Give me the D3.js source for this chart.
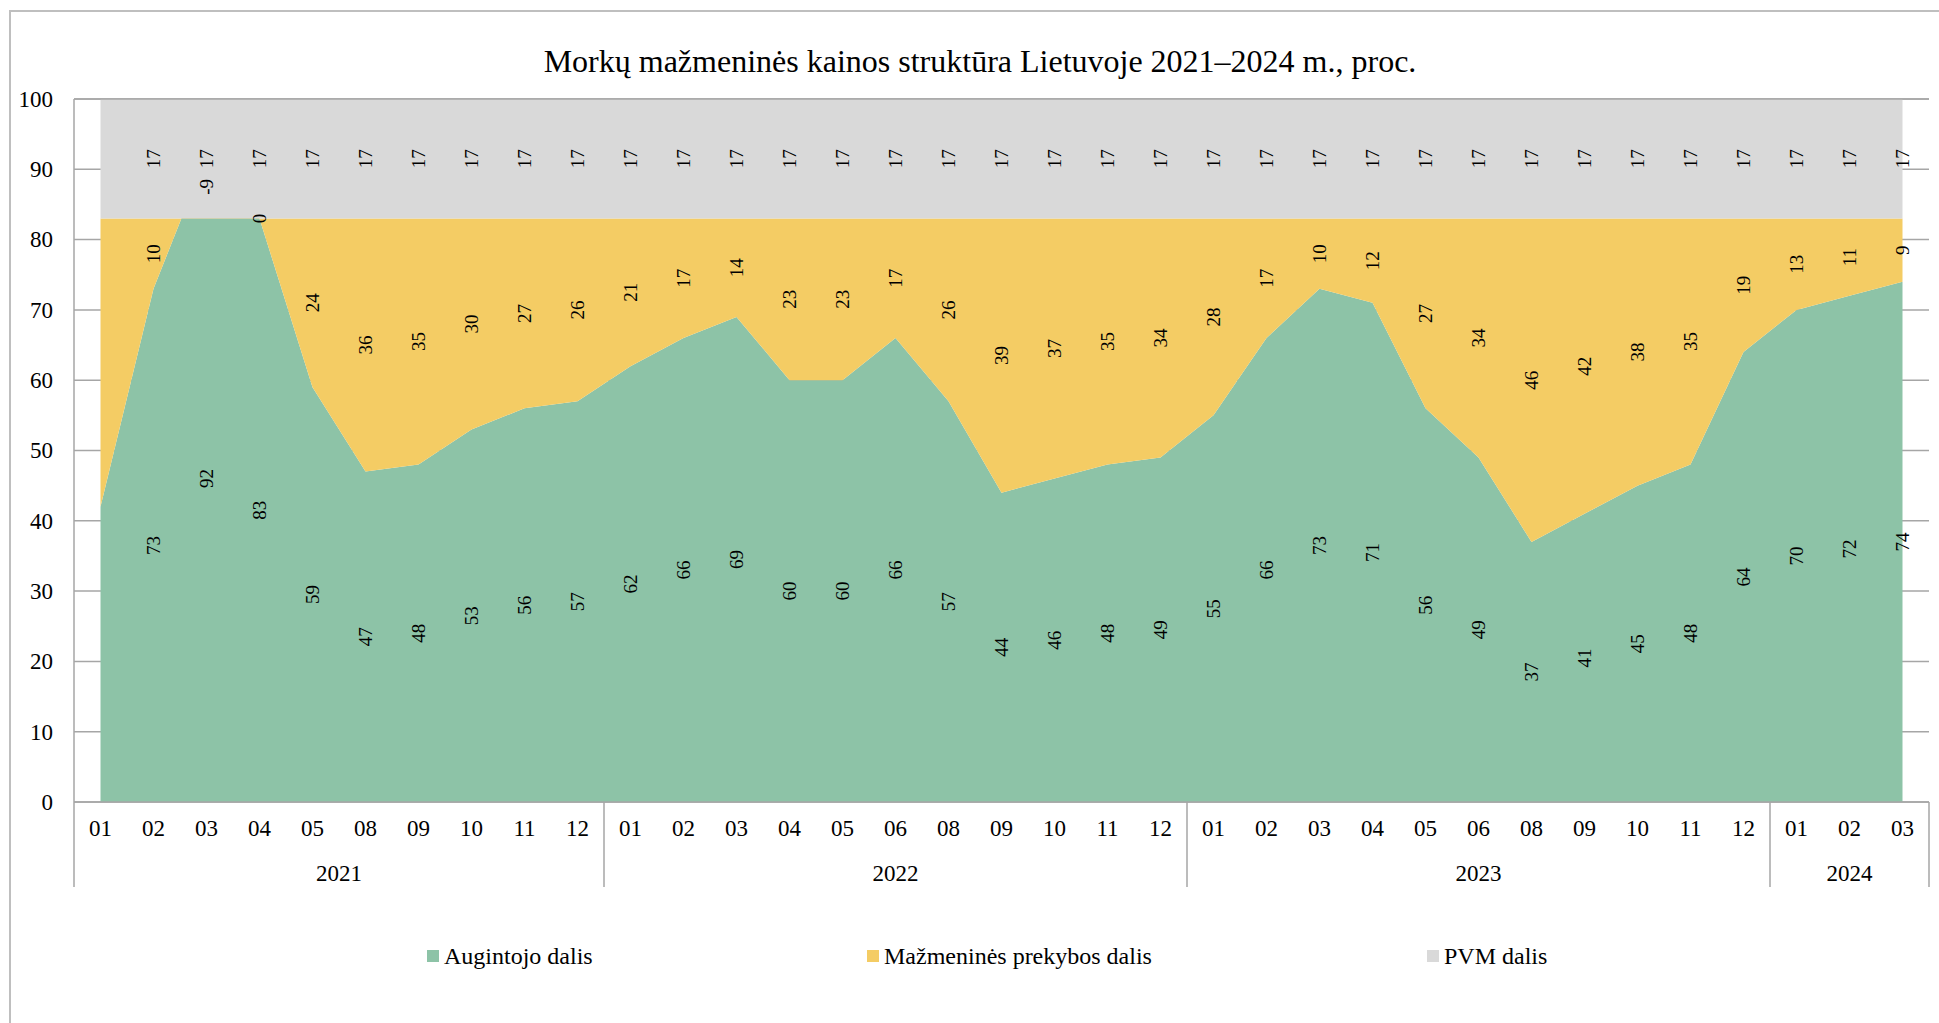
<!DOCTYPE html>
<html lang="lt">
<head>
<meta charset="utf-8">
<title>Morkų mažmeninės kainos struktūra</title>
<script src="https://cdn.jsdelivr.net/npm/d3@7"></script>
<style>
  body { margin: 0; background: #fff; }
  svg { display: block; font-family: "Liberation Serif", "Times New Roman", serif; }
</style>
</head>
<body>
<div id="container"></div>
<script>
// Duomenys
const years = ["2021", "2022", "2023", "2024"];
const months2021 = ["01", "02", "03", "04", "05", "08", "09", "10", "11", "12"];
const months2022 = ["01", "02", "03", "04", "05", "06", "08", "09", "10", "11", "12"];
const months2023 = ["01", "02", "03", "04", "05", "06", "08", "09", "10", "11", "12"];
const months2024 = ["01", "02", "03"];

const augintojoDalis = [42, 73, 92, 83, 59, 47, 48, 53, 56, 57,
                        62, 66, 69, 60, 60, 66, 57, 44, 46, 48, 49,
                        55, 66, 73, 71, 56, 49, 37, 41, 45, 48, 64,
                        70, 72, 74];
const prekybosDalis = [41, 10, -9, 0, 24, 36, 35, 30, 27, 26,
                       21, 17, 14, 23, 23, 17, 26, 39, 37, 35, 34,
                       28, 17, 10, 12, 27, 34, 46, 42, 38, 35, 19,
                       13, 11, 9];
const pvmDalis = [17, 17, 17, 17, 17, 17, 17, 17, 17, 17,
                  17, 17, 17, 17, 17, 17, 17, 17, 17, 17, 17,
                  17, 17, 17, 17, 17, 17, 17, 17, 17, 17, 17,
                  17, 17, 17];

const seriesNames = ["Augintojo dalis", "Mažmeninės prekybos dalis", "PVM dalis"];
const yTicks = [0, 10, 20, 30, 40, 50, 60, 70, 80, 90, 100];
const unlabeled = ["2021-01"]; // pirmas taškas be žymų

const title = "Morkų mažmeninės kainos struktūra Lietuvoje 2021–2024 m., proc.";
const colors = ["#8dc3a7", "#f4cc64", "#d9d9d9"];

// Matmenys
const width = 1939;
const height = 1023;
const plotLeft = 74, plotRight = 1929, plotTop = 99, plotBottom = 802;
const axisColor = "#a6a6a6";

const monthsByYear = [months2021, months2022, months2023, months2024];
const rows = [];
monthsByYear.forEach((ms, yi) => {
    ms.forEach(m => rows.push({ key: years[yi] + "-" + m, year: years[yi], month: m }));
});
rows.forEach((r, i) => {
    r.aug = augintojoDalis[i];
    r.prek = prekybosDalis[i];
    r.pvm = pvmDalis[i];
});

const svg = d3.select("#container")
    .append("svg")
    .attr("width", width)
    .attr("height", height);

// Rėmelis
svg.append("rect")
    .attr("x", 10).attr("y", 11)
    .attr("width", width + 20).attr("height", height + 20)
    .attr("fill", "#fff")
    .attr("stroke", "#bfbfbf")
    .attr("stroke-width", 2);

// Skalės
const x = d3.scaleBand()
    .domain(rows.map(d => d.key))
    .range([plotLeft, plotRight]);
const y = d3.scaleLinear()
    .domain([0, 100])
    .range([plotBottom, plotTop]);
const cx = k => x(k) + x.bandwidth() / 2;

// Tinklelis
svg.append("g")
    .selectAll("line")
    .data(yTicks)
    .join("line")
    .attr("x1", plotLeft).attr("x2", plotRight)
    .attr("y1", d => y(d)).attr("y2", d => y(d))
    .attr("stroke", axisColor)
    .attr("stroke-width", 1.5);

// Sluoksniai
const stack = d3.stack().keys(["aug", "prek", "pvm"]);
const layers = stack(rows);

const area = d3.area()
    .x(d => cx(d.data.key))
    .y0(d => y(d[0]))
    .y1(d => y(d[1]));

svg.append("g")
    .selectAll("path")
    .data(layers)
    .join("path")
    .attr("d", area)
    .attr("fill", (d, i) => colors[i]);

// Viršutinė linija
svg.append("line")
    .attr("x1", plotLeft).attr("x2", plotRight)
    .attr("y1", y(100)).attr("y2", y(100))
    .attr("stroke", axisColor).attr("stroke-width", 1.5);

// Duomenų žymos
layers.forEach(layer => {
    svg.append("g")
        .selectAll("text")
        .data(layer.filter(d => !unlabeled.includes(d.data.key)))
        .join("text")
        .attr("transform", d => `translate(${cx(d.data.key)},${y((d[0] + d[1]) / 2)}) rotate(-90)`)
        .attr("text-anchor", "middle")
        .attr("dominant-baseline", "central")
        .style("font-size", "19px")
        .attr("fill", "#000")
        .text(d => d.data[layer.key]);
});

// Y ašis
const yAxis = d3.axisLeft(y).tickValues(yTicks).tickSize(0).tickPadding(21);
const gy = svg.append("g")
    .attr("transform", `translate(${plotLeft},0)`)
    .call(yAxis);
gy.select(".domain").remove();
gy.selectAll("text")
    .style("font-family", "Liberation Serif, serif")
    .style("font-size", "23px")
    .attr("fill", "#000");

svg.append("line")
    .attr("x1", plotLeft).attr("x2", plotLeft)
    .attr("y1", plotTop).attr("y2", 887)
    .attr("stroke", axisColor).attr("stroke-width", 1.5);

// X ašis
const xAxis = d3.axisBottom(x).tickFormat(k => k.slice(5)).tickSize(0).tickPadding(18);
const gx = svg.append("g")
    .attr("transform", `translate(0,${plotBottom})`)
    .call(xAxis);
gx.select(".domain").remove();
gx.selectAll("text")
    .style("font-family", "Liberation Serif, serif")
    .style("font-size", "23px")
    .attr("fill", "#000");

svg.append("line")
    .attr("x1", plotLeft).attr("x2", plotRight)
    .attr("y1", plotBottom).attr("y2", plotBottom)
    .attr("stroke", axisColor).attr("stroke-width", 1.5);

// Metų grupės
const yearBounds = years.map(yr => {
    const ks = rows.filter(r => r.year === yr).map(r => r.key);
    return { year: yr, x0: x(ks[0]), x1: x(ks[ks.length - 1]) + x.bandwidth() };
});

svg.append("g")
    .selectAll("line")
    .data(yearBounds)
    .join("line")
    .attr("x1", d => d.x1).attr("x2", d => d.x1)
    .attr("y1", plotBottom).attr("y2", 887)
    .attr("stroke", axisColor).attr("stroke-width", 1.5);

svg.append("g")
    .selectAll("text")
    .data(yearBounds)
    .join("text")
    .attr("x", d => (d.x0 + d.x1) / 2)
    .attr("y", 873)
    .attr("text-anchor", "middle")
    .attr("dominant-baseline", "central")
    .style("font-size", "23px")
    .text(d => d.year);

// Pavadinimas
svg.append("text")
    .attr("x", 980)
    .attr("y", 72)
    .attr("text-anchor", "middle")
    .style("font-size", "32px")
    .text(title);

// Legenda
const legendX = [427, 867, 1427];
const legend = svg.append("g")
    .selectAll("g")
    .data(seriesNames)
    .join("g")
    .attr("transform", (d, i) => `translate(${legendX[i]},956)`);
legend.append("rect")
    .attr("x", 0).attr("y", -6)
    .attr("width", 12).attr("height", 12)
    .attr("fill", (d, i) => colors[i]);
legend.append("text")
    .attr("x", 17)
    .attr("dominant-baseline", "central")
    .style("font-size", "24px")
    .text(d => d);
</script>
</body>
</html>
